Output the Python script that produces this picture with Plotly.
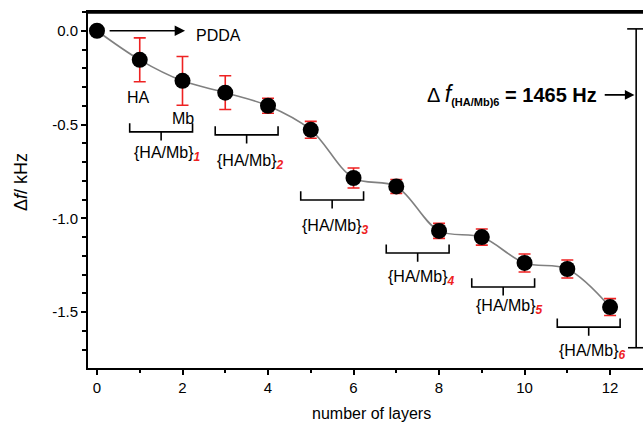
import plotly.graph_objects as go

# ---- data ----
layers = [0, 1, 2, 3, 4, 5, 6, 7, 8, 9, 10, 11, 12]
delta_f = [0.0, -0.155, -0.267, -0.33, -0.40, -0.528, -0.785, -0.83, -1.067, -1.10, -1.238, -1.27, -1.473]
err = [0.0, 0.117, 0.13, 0.09, 0.04, 0.045, 0.053, 0.037, 0.04, 0.043, 0.048, 0.048, 0.045]

pair_index = [1, 2, 3, 4, 5, 6]
brace_center = [1.5, 3.5, 5.5, 7.5, 9.5, 11.5]
brace_level = [-0.539, -0.555, -0.902, -1.185, -1.366, -1.580]
label_x = [1.64, 3.58, 5.57, 7.58, 9.64, 11.58]
label_y = [-0.655, -0.70, -1.046, -1.318, -1.473, -1.713]

x_tick_vals = [0, 2, 4, 6, 8, 10, 12]
y_tick_vals = [0.0, -0.5, -1.0, -1.5]
y_tick_text = ["0.0", "-0.5", "-1.0", "-1.5"]

FONT = "Liberation Sans, Arial, sans-serif"

fig = go.Figure()

# smooth guide line
fig.add_trace(go.Scatter(
    x=layers, y=delta_f, mode="lines",
    line=dict(color="#808080", width=1.6, shape="spline", smoothing=1.0),
    hoverinfo="skip", showlegend=False))

# points with error bars
fig.add_trace(go.Scatter(
    x=layers, y=delta_f, mode="markers",
    marker=dict(color="black", size=16),
    error_y=dict(type="data", array=err, visible=True, color="#ee2222", thickness=1.6, width=6),
    showlegend=False))

shapes = []
annotations = []

# braces under each HA/Mb pair
half_w = 0.735
h = 0.046
for k, cx, lv, lx, ly in zip(pair_index, brace_center, brace_level, label_x, label_y):
    x0, x1 = cx - half_w, cx + half_w
    path = (f"M {x0},{lv + h} L {x0},{lv} L {x1},{lv} L {x1},{lv + h} "
            f"M {cx},{lv} L {cx},{lv - h}")
    shapes.append(dict(type="path", path=path, xref="x", yref="y",
                       line=dict(color="black", width=1.6)))
    annotations.append(dict(
        x=lx, y=ly, xref="x", yref="y", showarrow=False,
        text=("{HA/Mb}<sub><span style='color:#ee2222;font-size:12px'><b><i>"
              f"{k}</i></b></span></sub>"),
        font=dict(family=FONT, size=16, color="black")))

# PDDA arrow and labels
annotations.append(dict(x=2.06, y=0.0, ax=0.26, ay=0.0, xref="x", yref="y",
                        axref="x", ayref="y", showarrow=True, arrowhead=2,
                        arrowsize=1.3, arrowwidth=1.6, arrowcolor="black", text=""))
annotations.append(dict(x=2.27, y=-0.027, xref="x", yref="y", showarrow=False,
                        xanchor="left", text="PDDA",
                        font=dict(family=FONT, size=16, color="black")))
annotations.append(dict(x=0.96, y=-0.357, xref="x", yref="y", showarrow=False,
                        text="HA", font=dict(family=FONT, size=16, color="black")))
annotations.append(dict(x=2.02, y=-0.47, xref="x", yref="y", showarrow=False,
                        text="Mb", font=dict(family=FONT, size=16, color="black")))

W, H = 643, 425
ml, mr, mt, mb = 88, 0, 12, 57
pw, ph = W - ml - mr, H - mt - mb


def px_x(px):
    return (px - ml) / pw


def px_y(py):
    return 1 - (py - mt) / ph


# total frequency change annotation
annotations.append(dict(
    x=px_x(599), y=px_y(95), xref="paper", yref="paper", showarrow=False,
    xanchor="right", yanchor="middle",
    text=("Δ <i><span style='font-size:23px'>f</span></i>"
          "<sub><b><span style='font-size:11px'>(HA/Mb)6</span></b></sub>"
          "<b> = 1465 Hz</b>"),
    font=dict(family=FONT, size=20, color="black")))

# y-axis title placed as annotation
annotations.append(dict(
    x=px_x(21), y=px_y(182), xref="paper", yref="paper", showarrow=False,
    xanchor="center", yanchor="middle", textangle=-90,
    text="Δ<i>f</i>/ kHz", font=dict(family=FONT, size=18, color="black")))

# x-axis title placed as annotation
annotations.append(dict(
    x=px_x(371), y=px_y(413), xref="paper", yref="paper", showarrow=False,
    xanchor="center", yanchor="middle",
    text="number of layers", font=dict(family=FONT, size=16, color="black")))

# arrow to the bar
annotations.append(dict(x=12.57, y=-0.342, ax=11.84, ay=-0.342, xref="x", yref="y",
                        axref="x", ayref="y", showarrow=True, arrowhead=2,
                        arrowsize=1.2, arrowwidth=1.6, arrowcolor="black", text=""))

# dimension bar on the right
bar_x = 12.61
shapes.append(dict(type="line", xref="x", yref="y", x0=bar_x, x1=bar_x, y0=0.01, y1=-1.69,
                   line=dict(color="black", width=1.6)))
shapes.append(dict(type="line", xref="x", yref="y", x0=12.40, x1=12.8, y0=0.01, y1=0.01,
                   line=dict(color="black", width=1.6)))
shapes.append(dict(type="line", xref="x", yref="y", x0=12.42, x1=12.8, y0=-1.69, y1=-1.69,
                   line=dict(color="black", width=1.6)))

# top frame line, just inside the top of the plotting area
shapes.append(dict(type="line", xref="x", yref="y", x0=-0.22, x1=12.8, y0=0.096, y1=0.096,
                   line=dict(color="black", width=2.2)))

fig.update_layout(
    width=W, height=H,
    margin=dict(l=ml, r=mr, t=mt, b=mb),
    paper_bgcolor="white", plot_bgcolor="white",
    font=dict(family=FONT, size=15, color="black"),
    shapes=shapes, annotations=annotations,
    xaxis=dict(
        range=[-0.21, 12.77], tickvals=x_tick_vals,
        showline=True, linecolor="black", linewidth=2, mirror=True,
        ticks="outside", ticklen=5, tickwidth=1.5, tickcolor="black",
        minor=dict(dtick=1, tick0=0, ticks="outside", ticklen=3, tickwidth=1.5, tickcolor="black"),
        showgrid=False, zeroline=False,
        tickfont=dict(size=15),
    ),
    yaxis=dict(
        range=[-1.798, 0.10], tickvals=y_tick_vals, ticktext=y_tick_text,
        showline=True, linecolor="black", linewidth=2, mirror=False,
        ticks="outside", ticklen=5, tickwidth=1.5, tickcolor="black",
        minor=dict(dtick=0.1, tick0=0, ticks="outside", ticklen=4, tickwidth=1.5, tickcolor="black"),
        showgrid=False, zeroline=False,
        tickfont=dict(size=15),
    ),
)

fig.write_html(
    "out.html", config={"displayModeBar": False},
    post_script=("document.body.style.margin='0px';document.body.style.padding='0px';"
                 "document.documentElement.style.overflow='hidden';"))
